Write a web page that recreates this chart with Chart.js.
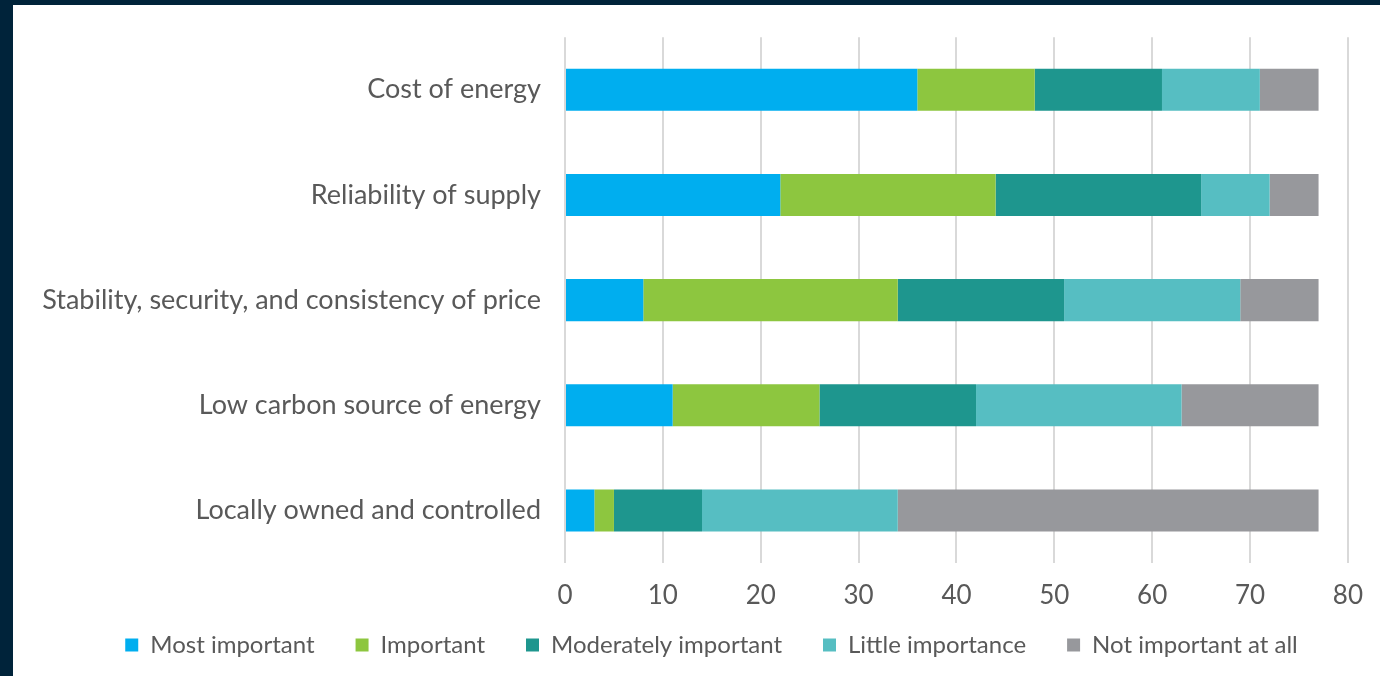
<!DOCTYPE html>
<html>
<head>
<meta charset="utf-8">
<script src="https://cdn.jsdelivr.net/npm/chart.js@4/dist/chart.umd.min.js"></script>
<style>
  html, body { margin: 0; padding: 0; width: 1380px; height: 676px; background: #00233a; overflow: hidden; }
  #panel { position: absolute; left: 13px; top: 5px; width: 1367px; height: 671px; background: #ffffff; }
  canvas { display: block; }
</style>
</head>
<body>
<div id="panel"><canvas id="chart" width="1367" height="671"></canvas></div>
<script>
const categories = [
  'Cost of energy',
  'Reliability of supply',
  'Stability, security, and consistency of price',
  'Low carbon source of energy',
  'Locally owned and controlled'
];
const seriesNames = ['Most important', 'Important', 'Moderately important', 'Little importance', 'Not important at all'];
const mostImportant = [36, 22, 8, 11, 3];
const important = [12, 22, 26, 15, 2];
const moderatelyImportant = [13, 21, 17, 16, 9];
const littleImportance = [10, 7, 18, 21, 20];
const notImportant = [6, 5, 8, 14, 43];
const xTicks = [0, 10, 20, 30, 40, 50, 60, 70, 80];

const colors = ['#00aeef', '#8dc63f', '#1e968e', '#56bec2', '#97989c'];
const values = [mostImportant, important, moderatelyImportant, littleImportance, notImportant];
const textColor = '#595959';
const fontFamily = 'Lato, "Open Sans", sans-serif';

const datasets = seriesNames.map((name, i) => ({
  label: name,
  data: values[i],
  backgroundColor: colors[i],
  borderWidth: 0,
  barPercentage: 1,
  categoryPercentage: 0.4
}));

// legend in the source sits a little right of centre and close under the axis
const legendShift = {
  id: 'legendShift',
  afterLayout(chart) {
    chart.legend.left += 28;
    chart.legend.right += 28;
    chart.legend.top -= 19;
    chart.legend.bottom -= 19;
  }
};

new Chart(document.getElementById('chart'), {
  type: 'bar',
  data: { labels: categories, datasets: datasets },
  plugins: [legendShift],
  options: {
    responsive: false,
    animation: false,
    indexAxis: 'y',
    layout: { padding: { top: 24, right: 26, bottom: -10, left: 0 } },
    scales: {
      x: {
        stacked: true,
        min: 0,
        max: 80,
        afterBuildTicks: (scale) => { scale.ticks = xTicks.map(v => ({ value: v })); },
        afterFit: (scale) => { scale.height = 48; },
        grid: { color: '#d9d9d9', lineWidth: 2, drawTicks: false },
        border: { display: false },
        ticks: { color: textColor, padding: 17, font: { family: fontFamily, size: 26 } }
      },
      y: {
        stacked: true,
        grid: { display: false },
        border: { display: false },
        afterFit: (scale) => { scale.width = 552; },
        ticks: { color: textColor, padding: 16, font: { family: fontFamily, size: 27 } }
      }
    },
    plugins: {
      legend: {
        position: 'bottom',
        labels: {
          color: textColor,
          boxWidth: 13,
          boxHeight: 13,
          padding: 41,
          font: { family: fontFamily, size: 24 }
        }
      },
      tooltip: { enabled: false }
    }
  }
});
</script>
</body>
</html>
